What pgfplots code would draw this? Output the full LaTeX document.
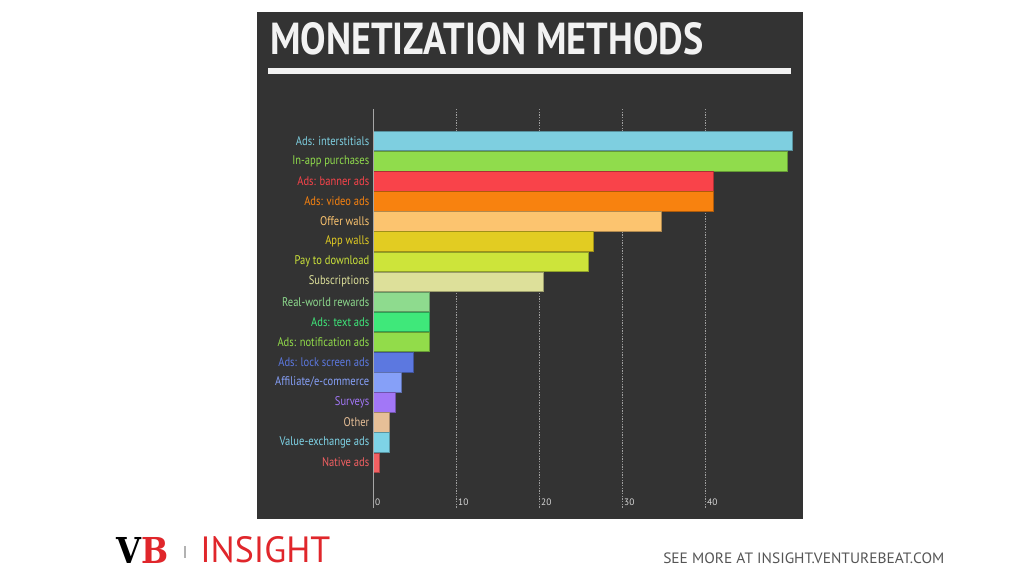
\documentclass[border=0pt]{standalone}
\usepackage{pgfplots}
\pgfplotsset{compat=1.18}
\usepackage{fontspec}
\setmainfont{PT Sans}
\newfontfamily\logofont{DejaVu Serif}
\definecolor{panel}{HTML}{333333}
\definecolor{titlecol}{HTML}{F2F2F2}
\definecolor{vbred}{HTML}{E0262B}
\definecolor{footgray}{HTML}{555555}
\definecolor{cA}{HTML}{7ECFE0}
\definecolor{cB}{HTML}{90DC4C}
\definecolor{cC}{HTML}{F9434A}
\definecolor{cD}{HTML}{F8820F}
\definecolor{cE}{HTML}{FCC46F}
\definecolor{cF}{HTML}{E2CC22}
\definecolor{cG}{HTML}{CDE43A}
\definecolor{cH}{HTML}{DDE09A}
\definecolor{cI}{HTML}{8EDB8E}
\definecolor{cJ}{HTML}{3FE87A}
\definecolor{cK}{HTML}{92DC4A}
\definecolor{cL}{HTML}{5C78E0}
\definecolor{cM}{HTML}{86A0F8}
\definecolor{cN}{HTML}{A277F7}
\definecolor{cO}{HTML}{E6BF97}
\definecolor{cP}{HTML}{7ED3E6}
\definecolor{cQ}{HTML}{F26062}
\newcommand\lab[2]{\scalebox{0.84}[1]{\textcolor{#1}{#2}}}
\begin{document}
\begin{tikzpicture}
\begin{scope}[x=0.75pt,y=-0.75pt]
\fill[white] (0,0) rectangle (1024,576);
\fill[panel] (257,12) rectangle (803,519);
\node[anchor=south west, inner sep=0, text=titlecol] at (270,55) {\resizebox{325pt}{24pt}{\bfseries MONETIZATION METHODS}};
\fill[titlecol] (268,68) rectangle (791,74);
\node[anchor=south west, inner sep=0] at (116,564) {\resizebox{39pt}{19.5pt}{\logofont\bfseries V\textcolor{vbred}{B}}};
\draw[gray!60, line width=0.8pt] (185,546) -- (185,558);
\node[anchor=south west, inner sep=0, text=vbred] at (200,563) {\resizebox{97.5pt}{19.5pt}{INSIGHT}};
\node[anchor=south west, inner sep=0, text=footgray] at (663,564) {\resizebox{210.75pt}{8pt}{SEE MORE AT INSIGHT.VENTUREBEAT.COM}};
\end{scope}
\begin{axis}[
  at={(280.1pt,-381pt)}, anchor=south west,
  width=317.5pt, height=299.25pt, scale only axis,
  xmin=0, xmax=51, ymin=-1.59, ymax=18.26, y dir=reverse,
  axis line style={draw=none},
  xtick={0,10,20,30,40}, ytick={0,...,16},
  major tick length=0pt,
  xmajorgrids, grid style={dash pattern=on 1pt off 1pt, gray!75, line width=0.5pt},
  /pgf/number format/assume math mode=true,
  xticklabel style={anchor=west, yshift=4.7pt, inner xsep=1.1pt, font=\fontsize{7}{8}\selectfont, text=white!85!black},
  yticklabel style={anchor=east, inner xsep=0pt, xshift=-3pt, font=\fontsize{9.4}{10}\selectfont},
  yticklabels={
    {\lab{cA}{Ads: interstitials}},
    {\lab{cB}{In-app purchases}},
    {\lab{cC}{Ads: banner ads}},
    {\lab{cD}{Ads: video ads}},
    {\lab{cE}{Offer walls}},
    {\lab{cF}{App walls}},
    {\lab{cG}{Pay to download}},
    {\lab{cH}{Subscriptions}},
    {\lab{cI}{Real-world rewards}},
    {\lab{cJ}{Ads: text ads}},
    {\lab{cK}{Ads: notification ads}},
    {\lab{cL}{Ads: lock screen ads}},
    {\lab{cM}{Affiliate/e-commerce}},
    {\lab{cN}{Surveys}},
    {\lab{cO}{Other}},
    {\lab{cP}{Value-exchange ads}},
    {\lab{cQ}{Native ads}}},
  mybar/.style={xbar, bar width=14.6pt, bar shift=0pt, fill=#1, draw=#1!70!black, line width=0.4pt},
  clip=false,
]
\addplot[mybar=cA] coordinates {(50.4,0)};
\addplot[mybar=cB] coordinates {(49.8,1)};
\addplot[mybar=cC] coordinates {(40.9,2)};
\addplot[mybar=cD] coordinates {(40.9,3)};
\addplot[mybar=cE] coordinates {(34.7,4)};
\addplot[mybar=cF] coordinates {(26.5,5)};
\addplot[mybar=cG] coordinates {(25.9,6)};
\addplot[mybar=cH] coordinates {(20.4,7)};
\addplot[mybar=cI] coordinates {(6.7,8)};
\addplot[mybar=cJ] coordinates {(6.7,9)};
\addplot[mybar=cK] coordinates {(6.7,10)};
\addplot[mybar=cL] coordinates {(4.76,11)};
\addplot[mybar=cM] coordinates {(3.35,12)};
\addplot[mybar=cN] coordinates {(2.63,13)};
\addplot[mybar=cO] coordinates {(1.95,14)};
\addplot[mybar=cP] coordinates {(1.95,15)};
\addplot[mybar=cQ] coordinates {(0.66,16)};
\draw[gray!70, line width=0.8pt] (rel axis cs:0,0) -- (rel axis cs:0,1);
\end{axis}
\end{tikzpicture}
\end{document}
